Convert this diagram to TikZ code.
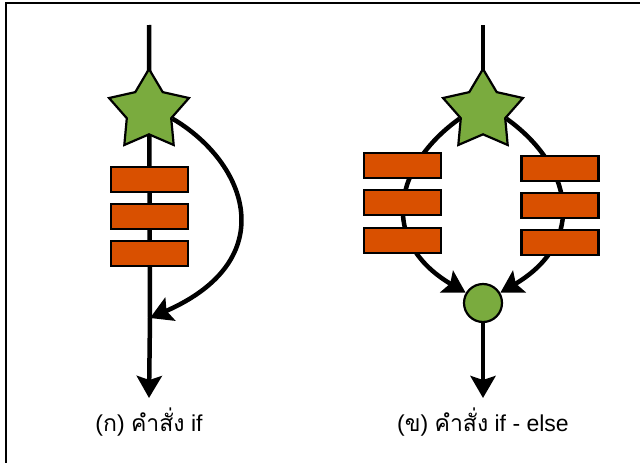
\documentclass[tikz,border=0pt]{standalone}
\usepackage{fontspec}
\setmainfont{Liberation Sans}
\newfontfamily\thaifont[Script=Thai]{Loma}
\usetikzlibrary{shapes.geometric,arrows.meta,backgrounds}
\definecolor{leaf}{HTML}{7AAB3E}
\definecolor{brick}{HTML}{D95000}
\tikzset{
  flow/.style={line width=4.5pt, -{Stealth[length=22pt,width=25pt,inset=4pt]}},
  stem/.style={line width=4.5pt},
  starnode/.style={star, star points=5, star point ratio=1.8, minimum size=84pt,
    inner sep=0pt, draw=black, line width=2.2pt, fill=leaf},
  block/.style={rectangle, minimum width=77pt, minimum height=25pt, inner sep=0pt,
    draw=black, line width=2.2pt, fill=brick},
  joint/.style={circle, minimum size=38pt, inner sep=0pt, draw=black, line width=2.2pt, fill=leaf},
  caption/.style={font=\fontsize{23}{27}\selectfont, inner sep=0pt}
}
\begin{document}
\begin{tikzpicture}[x=1pt,y=-1pt]
  \useasboundingbox (0,0) rectangle (640,463);
  \begin{scope}
    \clip (0,0) rectangle (640,463);
    \draw[line width=2.2pt] (6,3) rectangle (660,480);
  \end{scope}

  % (a) if
  \coordinate (atop) at (149,25);
  \coordinate (ajoin) at (150,318);
  \coordinate (aend) at (149,398);
  \node[starnode] (sa) at (149,111) {};
  \node[block] (a1) at (149.5,179.5) {};
  \node[block] (a2) at (149.5,216.5) {};
  \node[block] (a3) at (149.5,253.5) {};

  % (b) if - else
  \coordinate (btop) at (483,25);
  \coordinate (bend) at (483,398);
  \node[starnode] (sb) at (483,111) {};
  \node[block] (bl1) at (402.5,165.5) {};
  \node[block] (bl2) at (402.5,202.5) {};
  \node[block] (bl3) at (402.5,240.5) {};
  \node[block] (br1) at (560,168.5) {};
  \node[block] (br2) at (560,205.5) {};
  \node[block] (br3) at (560,242.5) {};
  \node[joint] (bj) at (483,303) {};

  \begin{scope}[on background layer]
    \draw[stem] (atop) -- (ajoin);
    \draw[flow] (ajoin) -- (aend);
    \draw[flow] (sa.inner point 4) .. controls +(75,44) and +(133,-58) .. (ajoin);

    \draw[stem] (btop) -- (sb.center);
    \draw[flow] (bj.center) -- (bend);
    \draw[flow] (sb.inner point 2) .. controls +(-66,47) and +(-105,-62) .. (bj);
    \draw[flow] (sb.inner point 4) .. controls +(66,47) and +(105,-62) .. (bj);
  \end{scope}

  \node[caption] (la) at (149,422) {({\thaifont ก}) {\thaifont คำสั่ง} if};
  \node[caption] (lb) at (483,422) {({\thaifont ข}) {\thaifont คำสั่ง} if - else};
\end{tikzpicture}
\end{document}
